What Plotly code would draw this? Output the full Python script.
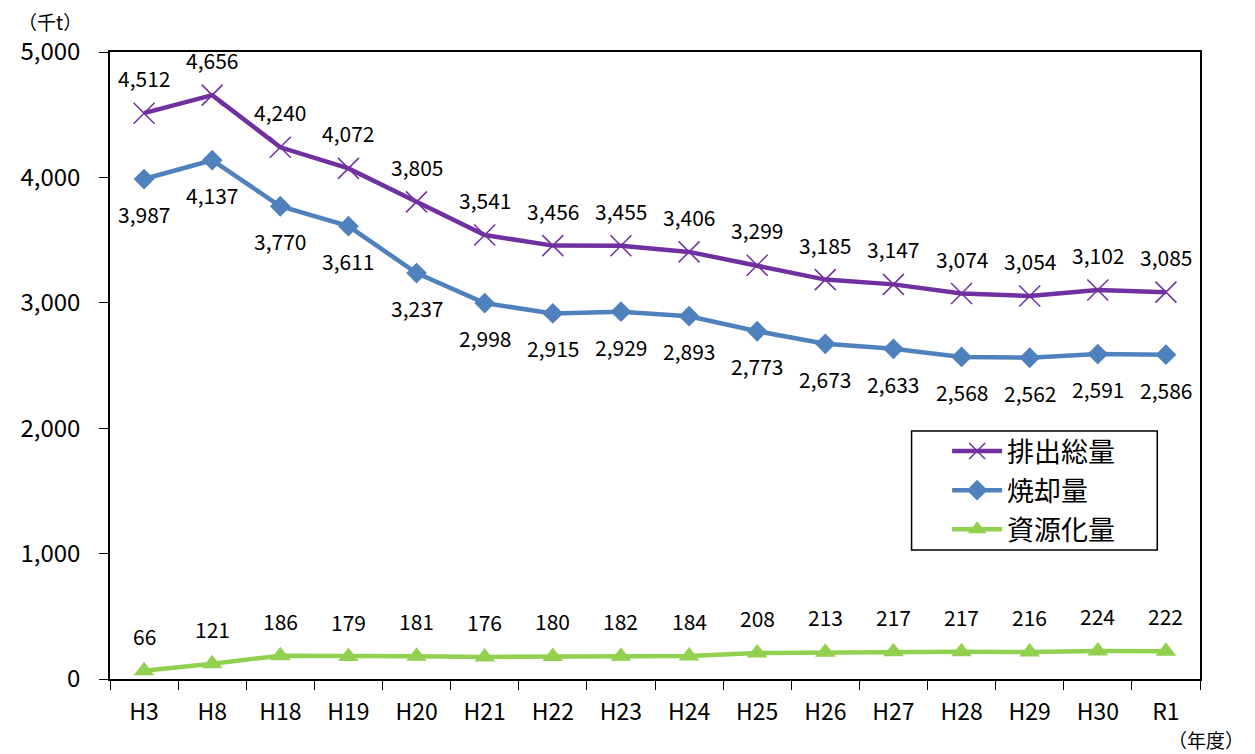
import plotly.graph_objects as go

years = ["H3", "H8", "H18", "H19", "H20", "H21", "H22", "H23", "H24", "H25",
         "H26", "H27", "H28", "H29", "H30", "R1"]
total = [4512, 4656, 4240, 4072, 3805, 3541, 3456, 3455, 3406, 3299,
         3185, 3147, 3074, 3054, 3102, 3085]
incinerated = [3987, 4137, 3770, 3611, 3237, 2998, 2915, 2929, 2893, 2773,
               2673, 2633, 2568, 2562, 2591, 2586]
recycled = [66, 121, 186, 179, 181, 176, 180, 182, 184, 208,
            213, 217, 217, 216, 224, 222]

FONT = "Noto Sans CJK JP"
PURPLE = "#7030A0"
BLUE = "#4F81BD"
GREEN = "#92D050"

fig = go.Figure()
fig.add_trace(go.Scatter(
    x=years, y=total, name="排出総量", mode="lines+markers", legendgroup="a",
    line=dict(color=PURPLE, width=4.5),
    marker=dict(symbol="x-thin", size=21, line=dict(color=PURPLE, width=1.5)),
))
fig.add_trace(go.Scatter(
    x=years, y=incinerated, name="焼却量", mode="lines+markers", legendgroup="b",
    line=dict(color=BLUE, width=4.5),
    marker=dict(symbol="diamond", size=16, color=BLUE),
))
fig.add_trace(go.Scatter(
    x=years, y=recycled, name="資源化量", mode="lines+markers", legendgroup="c",
    line=dict(color=GREEN, width=4.5),
    marker=dict(symbol="triangle-up", size=18, color=GREEN),
))

annotations = []
for series, shift in ((total, 35), (incinerated, -35), (recycled, 35)):
    for xv, yv in zip(years, series):
        annotations.append(dict(
            x=xv, y=yv, xref="x", yref="y", text=f"{yv:,}", showarrow=False,
            yshift=shift, font=dict(family=FONT, size=21, color="black"),
        ))
annotations.append(dict(x=0, y=1, xref="paper", yref="paper", xanchor="left",
                        yanchor="middle", xshift=-94, yshift=31, text="（千t）",
                        showarrow=False, font=dict(family=FONT, size=19, color="black")))
annotations.append(dict(x=1, y=0, xref="paper", yref="paper", xanchor="right",
                        yanchor="middle", xshift=46, yshift=-60, text="（年度）",
                        showarrow=False, font=dict(family=FONT, size=19, color="black")))

fig.update_layout(
    width=1247, height=746,
    margin=dict(l=96, r=55, t=44, b=75),
    paper_bgcolor="white", plot_bgcolor="white",
    font=dict(family=FONT, color="black"),
    showlegend=True,
    legend=dict(x=0.768, y=0.4019, xanchor="left", yanchor="top",
                borderwidth=0, bgcolor="rgba(0,0,0,0)",
                font=dict(family=FONT, size=27), tracegroupgap=1,
                itemwidth=50),
    shapes=[dict(type="rect", xref="paper", yref="paper",
                 x0=0.7354, x1=0.9608, y0=0.2057, y1=0.3955,
                 line=dict(color="black", width=1.5), fillcolor="white",
                 layer="below")],
    annotations=annotations,
)
fig.update_xaxes(
    type="category", range=[-0.5, 15.5], showgrid=False,
    showline=True, linecolor="black", linewidth=1.5, mirror=True,
    ticks="outside", tickson="boundaries", ticklen=9, tickcolor="black",
    tickfont=dict(family=FONT, size=23), ticklabelstandoff=12,
)
fig.update_yaxes(
    range=[0, 5000], tickvals=[0, 1000, 2000, 3000, 4000, 5000],
    tickformat=",", showgrid=False, zeroline=False,
    showline=True, linecolor="black", linewidth=1.5, mirror=True,
    ticks="outside", ticklen=9, tickcolor="black",
    tickfont=dict(family=FONT, size=24), ticklabelstandoff=14,
)

fig.write_html("out.html")
